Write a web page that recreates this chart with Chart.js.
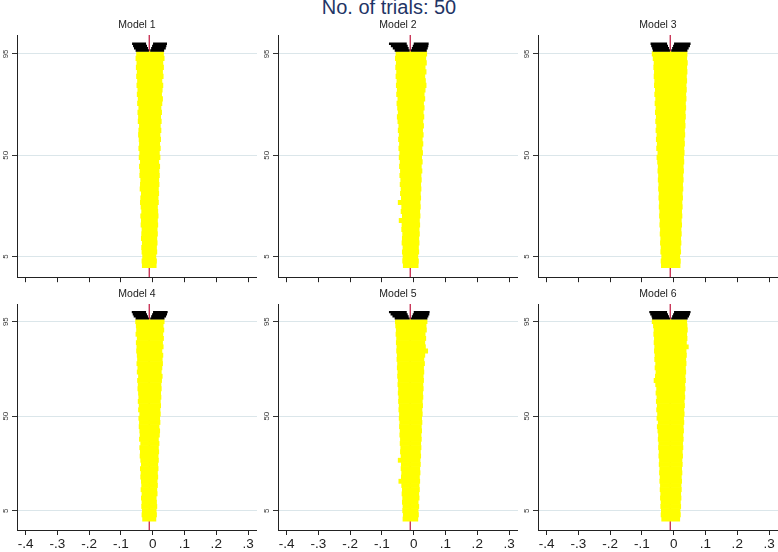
<!DOCTYPE html>
<html>
<head>
<meta charset="utf-8">
<script src="https://cdn.jsdelivr.net/npm/chart.js@4/dist/chart.umd.min.js"></script>
<style>
  body { margin: 0; background: #fff; width: 778px; height: 552px; position: relative; overflow: hidden;
         font-family: "Liberation Sans", Arial, sans-serif; }
  #mainTitle { position: absolute; left: 0; top: -3px; width: 778px; text-align: center;
               font-size: 20px; line-height: 20px; color: #1f3566; }
  canvas { position: absolute; }
</style>
</head>
<body>
<div id="mainTitle">No. of trials: 50</div>

<script>
const modelNames = ["Model 1", "Model 2", "Model 3", "Model 4", "Model 5", "Model 6"];
const xTicks = [-.4, -.3, -.2, -.1, 0, .1, .2, .3];
const xTickLabels = ["-.4", "-.3", "-.2", "-.1", "0", ".1", ".2", ".3"];
const yTicks = [5, 50, 95];

// percentile rows: yellow intervals cover the true value, black ones miss it
const rowPos = [1, 3, 5, 7, 9, 11, 13, 15, 17, 19, 21, 23, 25, 27, 29, 31, 33, 35, 37, 39, 41, 43, 45, 47,
                49, 51, 53, 55, 57, 59, 61, 63, 65, 67, 69, 71, 73, 75, 77, 79, 81, 83, 85, 87, 89, 91, 93, 95];
const tailPos = [96.5, 97.5, 98.5, 99.5];

// true value (red line) per model
const truth = [-.011, -.011, -.011, -.011, -.011, -.011];

const lo1 = [-.033,-.034,-.032,-.034,-.035,-.033,-.036,-.035,-.034,-.037,-.036,-.038,
             -.035,-.037,-.039,-.038,-.036,-.040,-.039,-.038,-.041,-.040,-.042,-.039,
             -.043,-.041,-.044,-.042,-.043,-.045,-.044,-.042,-.046,-.045,-.047,-.044,
             -.048,-.046,-.049,-.047,-.050,-.048,-.051,-.049,-.052,-.050,-.053,-.051];
const hi1 = [.011,.012,.010,.013,.012,.014,.013,.015,.014,.016,.015,.017,
             .016,.015,.018,.017,.019,.018,.020,.019,.021,.020,.022,.019,
             .023,.021,.024,.022,.025,.023,.026,.024,.027,.025,.028,.026,
             .029,.031,.028,.030,.032,.029,.033,.031,.034,.032,.036,.034];

const lo2 = [-.033,-.035,-.034,-.036,-.034,-.037,-.036,-.035,-.038,-.037,-.046,-.036,
             -.040,-.038,-.049,-.039,-.042,-.040,-.043,-.041,-.044,-.042,-.045,-.043,
             -.046,-.044,-.047,-.045,-.048,-.046,-.049,-.047,-.050,-.052,-.049,-.051,
             -.053,-.050,-.054,-.052,-.055,-.053,-.056,-.054,-.057,-.055,-.058,-.056];
const hi2 = [.014,.015,.013,.016,.015,.017,.016,.018,.017,.019,.018,.020,
             .019,.021,.020,.022,.021,.023,.022,.024,.023,.026,.024,.027,
             .025,.028,.026,.029,.027,.030,.028,.031,.029,.032,.030,.033,
             .031,.035,.033,.036,.039,.037,.035,.039,.036,.040,.038,.041];

const lo3 = [-.039,-.040,-.038,-.041,-.040,-.042,-.041,-.043,-.042,-.044,-.043,-.045,
             -.044,-.046,-.045,-.047,-.046,-.048,-.047,-.049,-.048,-.050,-.049,-.051,
             -.053,-.050,-.054,-.052,-.055,-.053,-.056,-.054,-.057,-.055,-.058,-.056,
             -.059,-.057,-.060,-.058,-.061,-.060,-.062,-.061,-.063,-.062,-.065,-.068];
const hi3 = [.020,.021,.019,.022,.021,.023,.022,.024,.023,.025,.024,.026,
             .025,.027,.026,.028,.027,.029,.028,.030,.029,.031,.030,.032,
             .031,.033,.032,.034,.033,.035,.034,.036,.035,.037,.036,.038,
             .037,.039,.038,.040,.039,.041,.040,.042,.041,.043,.041,.042];

const lo4 = [-.032,-.034,-.033,-.035,-.034,-.036,-.034,-.037,-.035,-.036,-.038,-.037,
             -.039,-.036,-.038,-.040,-.039,-.041,-.038,-.042,-.040,-.041,-.043,-.042,
             -.044,-.041,-.045,-.043,-.046,-.044,-.045,-.047,-.046,-.048,-.045,-.049,
             -.047,-.050,-.048,-.049,-.051,-.050,-.052,-.049,-.053,-.051,-.052,-.054];
const hi4 = [.010,.012,.011,.013,.012,.011,.014,.013,.015,.014,.016,.015,
             .017,.016,.018,.017,.019,.018,.020,.018,.021,.022,.020,.023,
             .022,.024,.023,.025,.024,.026,.025,.027,.026,.028,.030,.027,
             .029,.031,.030,.032,.029,.033,.031,.034,.032,.035,.033,.036];

const lo5 = [-.034,-.033,-.035,-.034,-.036,-.035,-.037,-.036,-.038,-.047,-.039,-.038,
             -.040,-.039,-.049,-.040,-.042,-.041,-.043,-.042,-.044,-.043,-.045,-.044,
             -.046,-.045,-.047,-.046,-.048,-.047,-.049,-.048,-.050,-.049,-.051,-.050,
             -.052,-.051,-.053,-.052,-.054,-.053,-.055,-.054,-.056,-.055,-.057,-.058];
const hi5 = [.013,.015,.014,.016,.014,.017,.016,.018,.017,.019,.018,.020,
             .019,.021,.020,.022,.021,.023,.022,.024,.023,.025,.024,.026,
             .025,.027,.026,.028,.027,.029,.028,.030,.029,.031,.030,.032,
             .031,.034,.032,.035,.044,.037,.035,.038,.036,.040,.039,.042];

const lo6 = [-.038,-.040,-.039,-.041,-.040,-.042,-.041,-.043,-.042,-.044,-.043,-.045,
             -.044,-.046,-.045,-.047,-.046,-.048,-.047,-.049,-.048,-.050,-.052,-.049,
             -.053,-.051,-.054,-.052,-.055,-.053,-.056,-.054,-.057,-.062,-.058,-.056,
             -.059,-.057,-.060,-.059,-.061,-.060,-.062,-.061,-.063,-.062,-.064,-.068];
const hi6 = [.019,.021,.020,.022,.021,.023,.022,.024,.023,.025,.024,.026,
             .025,.027,.026,.028,.027,.029,.028,.030,.029,.031,.030,.032,
             .031,.033,.032,.034,.033,.035,.034,.036,.035,.037,.036,.038,
             .037,.039,.038,.040,.039,.046,.040,.042,.041,.043,.042,.041];

// intervals that miss the true value, [lo, hi] for the four top rows
const tailL1 = [[-.054, -.012], [-.059, -.015], [-.062, -.018], [-.065, -.021]];
const tailR1 = [[-.008, .036], [-.005, .041], [-.002, .043], [.001, .045]];
const tailL2 = [[-.060, -.013], [-.066, -.016], [-.072, -.019], [-.078, -.022]];
const tailR2 = [[-.009, .041], [-.006, .044], [-.003, .046], [.000, .047]];
const tailL3 = [[-.066, -.012], [-.068, -.015], [-.071, -.018], [-.073, -.021]];
const tailR3 = [[-.008, .043], [-.005, .047], [-.002, .051], [.001, .053]];
const tailL4 = [[-.054, -.012], [-.060, -.015], [-.063, -.018], [-.066, -.021]];
const tailR4 = [[-.008, .037], [-.005, .042], [-.002, .045], [.001, .047]];
const tailL5 = [[-.060, -.013], [-.067, -.016], [-.073, -.019], [-.078, -.022]];
const tailR5 = [[-.009, .043], [-.006, .046], [-.003, .049], [.000, .050]];
const tailL6 = [[-.068, -.012], [-.070, -.015], [-.074, -.018], [-.077, -.021]];
const tailR6 = [[-.008, .044], [-.005, .048], [-.002, .051], [.001, .053]];

const panels = [
    { lo: lo1, hi: hi1, tailL: tailL1, tailR: tailR1 },
    { lo: lo2, hi: hi2, tailL: tailL2, tailR: tailR2 },
    { lo: lo3, hi: hi3, tailL: tailL3, tailR: tailR3 },
    { lo: lo4, hi: hi4, tailL: tailL4, tailR: tailR4 },
    { lo: lo5, hi: hi5, tailL: tailL5, tailR: tailR5 },
    { lo: lo6, hi: hi6, tailL: tailL6, tailR: tailR6 },
];

const xMin = -0.4274, xMax = 0.3283;
const yMin = -4.2, yMax = 103.4;
const colLeft = [0, 261, 521];

Chart.defaults.font.family = '"Liberation Sans", Arial, sans-serif';

// tail rows drawn as short thick segments, separated by empty points
function tailSegments(pairs) {
    const pts = [];
    pairs.forEach((pair, k) => {
        pts.push({ x: pair[0], y: tailPos[k] }, { x: pair[1], y: tailPos[k] }, { x: null, y: tailPos[k] });
    });
    return pts;
}

function makePanel(i) {
    const p = panels[i];
    const bottomRow = i >= 3;
    const canvas = document.createElement("canvas");
    canvas.width = 257;
    canvas.height = bottomRow ? 269 : 270;
    canvas.style.left = colLeft[i % 3] + "px";
    canvas.style.top = (bottomRow ? 283 : 14) + "px";
    document.body.appendChild(canvas);

    const tailStyle = {
        type: "line",
        borderColor: "#000000",
        borderWidth: bottomRow ? 2.2 : 2.35,
        borderCapStyle: "butt",
        pointRadius: 0,
        spanGaps: false,
        order: 1,
    };

    new Chart(canvas, {
        type: "bar",
        data: {
            datasets: [
                Object.assign({ data: tailSegments(p.tailL) }, tailStyle),
                Object.assign({ data: tailSegments(p.tailR) }, tailStyle),
                {
                    data: rowPos.map((y, k) => ({ y: y, x: [p.lo[k], p.hi[k]] })),
                    backgroundColor: "#ffff00",
                    order: 2,
                },
                {
                    type: "line",
                    data: [{ x: truth[i], y: yMin }, { x: truth[i], y: yMax }],
                    borderColor: "#c0143c",
                    borderWidth: 1.2,
                    pointRadius: 0,
                    order: 3,
                },
            ],
        },
        options: {
            indexAxis: "y",
            responsive: false,
            animation: false,
            layout: { padding: 0 },
            datasets: {
                bar: { grouped: false, barPercentage: 1, categoryPercentage: 1, borderWidth: 0 },
            },
            plugins: {
                legend: { display: false },
                tooltip: { enabled: false },
                title: {
                    display: true,
                    text: modelNames[i],
                    fullSize: false,
                    color: "#222",
                    font: { size: 10.5, weight: "normal" },
                    padding: { top: 5, bottom: 3.4 },
                },
            },
            scales: {
                x: {
                    type: "linear",
                    min: xMin,
                    max: xMax,
                    afterBuildTicks: (s) => { s.ticks = xTicks.map((v) => ({ value: v })); },
                    afterFit: (s) => { s.height = bottomRow ? 22 : 5; },
                    ticks: {
                        display: bottomRow,
                        autoSkip: false,
                        maxRotation: 0,
                        padding: 1,
                        color: "#222",
                        font: { size: 13.5 },
                        callback: (v, k) => xTickLabels[k],
                    },
                    grid: { drawOnChartArea: false, drawTicks: true, tickLength: 5, tickColor: "#222" },
                    border: { display: true, color: "#222" },
                },
                y: {
                    type: "linear",
                    min: yMin,
                    max: yMax,
                    offset: false,
                    afterBuildTicks: (s) => { s.ticks = yTicks.map((v) => ({ value: v })); },
                    afterFit: (s) => { s.width = 17; },
                    ticks: {
                        minRotation: 90,
                        maxRotation: 90,
                        crossAlign: "center",
                        padding: 2,
                        color: "#333",
                        font: { size: 8 },
                        callback: (v) => String(v),
                    },
                    grid: { offset: false, color: "#dbe6ea", tickColor: "#333", tickLength: 5, drawTicks: true },
                    border: { display: true, color: "#222" },
                },
            },
        },
    });
}

for (let i = 0; i < 6; i++) makePanel(i);
</script>
</body>
</html>
